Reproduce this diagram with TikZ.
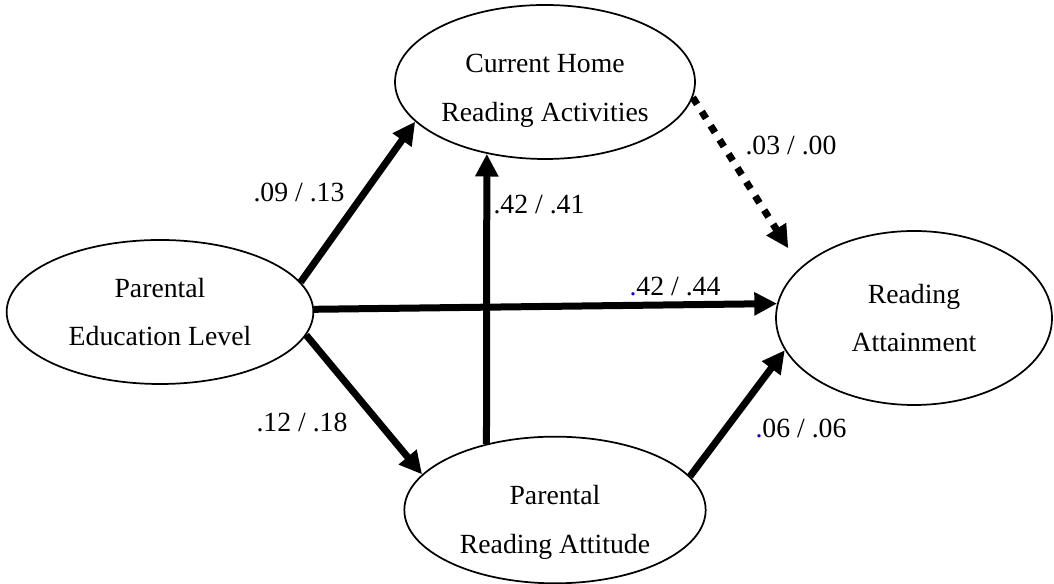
\documentclass[tikz,border=0pt]{standalone}
\usepackage{fontspec}
\setmainfont{Liberation Serif}
\usetikzlibrary{arrows.meta,shapes.geometric}

\begin{document}
\begin{tikzpicture}[x=0.75pt, y=0.75pt,
    var/.style={ellipse, draw, line width=1.3pt, inner sep=0pt, align=center,
      font=\fontsize{20.8}{36.7}\selectfont},
    vtxt/.style={align=center, inner sep=0pt, font=\fontsize{20.8}{36.7}\selectfont},
    coef/.style={font=\fontsize{20.8}{24}\selectfont},
    link/.style={-{Triangle[length=17pt, width=16.5pt]}, line width=5.25pt},
    weak/.style={link, dash pattern=on 6pt off 6.5pt}]

  \useasboundingbox (0,0) rectangle (1054,584);

  % ---- the four variables ---------------------------------------------------
  \node[var, minimum width=225pt, minimum height=115.5pt,
    label={[vtxt, yshift=-6.5pt]center:Current Home\\Reading Activities}]
    (home) at (545,502) {};
  \node[var, minimum width=230pt, minimum height=108pt] (edu) at (160,272)
    {Parental\\Education Level};
  \node[var, minimum width=226pt, minimum height=110pt,
    label={[vtxt, yshift=-9pt]center:Parental\\Reading Attitude}]
    (att) at (555,74) {};
  \node[var, minimum width=207pt, minimum height=130.5pt] (read) at (914,266)
    {Reading\\Attainment};

  % ---- paths -----------------------------------------------------------------
  \draw[link] (edu.12) -- (home.197);
  \draw[link] (edu.1) -- (read.174);
  \draw[link] (edu.351) -- (att.165);
  \draw[link] (att.136) -- (home.231);
  \draw[link] (att.14) -- (read.194);
  \draw[weak, shorten >=17pt] (home.354) -- (read.156);

  % ---- path coefficients -----------------------------------------------------
  \node[coef] (cEduHome) at (299,392) {.09 / .13};
  \node[coef] (cAttHome) at (539,379) {.42 / .41};
  \node[coef] (cHomeRead) at (791,439) {.03 / .00};
  \node[coef] (cEduRead) at (675,297) {\textcolor{blue}{.}42 / .44};
  \node[coef] (cEduAtt) at (302,162) {.12 / .18};
  \node[coef] (cAttRead) at (801,156) {\textcolor{blue}{.}06 / .06};
\end{tikzpicture}
\end{document}
